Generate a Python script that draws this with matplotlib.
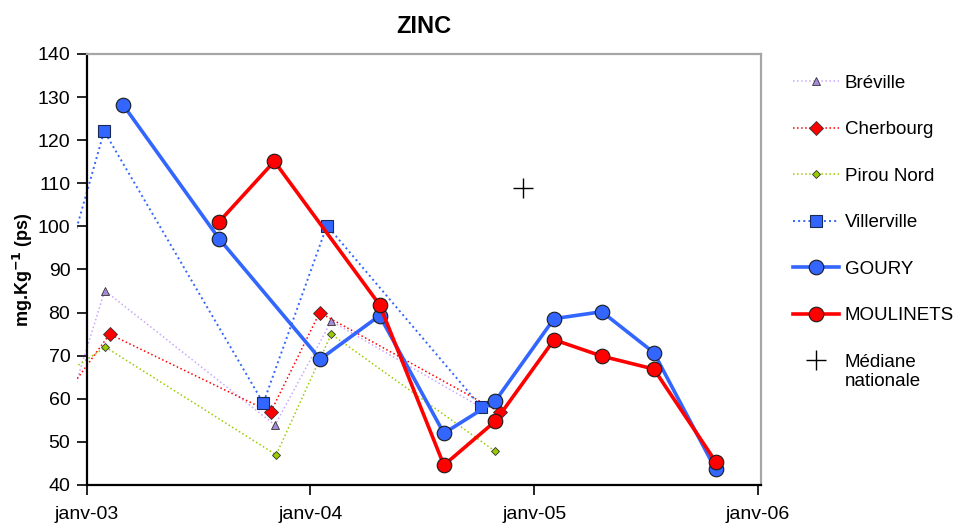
import matplotlib
matplotlib.use("Agg")
import matplotlib.pyplot as plt
from matplotlib.transforms import Bbox, TransformedBbox
import numpy as np

plt.rcParams['font.family'] = ['Liberation Sans', 'DejaVu Sans']

# --- data -------------------------------------------------------------
breville_dates = ['2002-11-15', '2003-01-30', '2003-11-04', '2004-02-04', '2004-10-06']
breville_vals = [50.4, 85.1, 53.9, 78.0, 58.0]

cherbourg_dates = ['2002-11-15', '2003-02-07', '2003-10-28', '2004-01-16', '2004-11-05']
cherbourg_vals = [58.6, 75.0, 56.9, 80.0, 56.9]

pirou_dates = ['2002-11-15', '2003-01-31', '2003-11-06', '2004-02-04', '2004-10-28']
pirou_vals = [64.7, 72.0, 47.0, 75.0, 47.9]

villerville_dates = ['2002-11-15', '2003-01-29', '2003-10-16', '2004-01-28', '2004-10-06']
villerville_vals = [84.6, 122.1, 59.0, 100.2, 58.1]

goury_dates = ['2003-03-01', '2003-08-05', '2004-01-17', '2004-04-23', '2004-08-06',
               '2004-10-29', '2005-02-02', '2005-04-21', '2005-07-15', '2005-10-24']
goury_vals = [128.2, 97.1, 69.2, 79.3, 52.0, 59.5, 78.6, 80.2, 70.7, 43.6]

moulinets_dates = ['2003-08-05', '2003-11-03', '2004-04-23', '2004-08-06',
                   '2004-10-29', '2005-02-02', '2005-04-21', '2005-07-15', '2005-10-24']
moulinets_vals = [101.1, 115.1, 81.8, 44.6, 54.8, 73.7, 69.9, 66.9, 45.4]

mediane_dates = ['2004-12-13']
mediane_vals = [108.9]

tick_dates = ['2003-01-01', '2004-01-01', '2005-01-01', '2006-01-01']
tick_labels = ['janv-03', 'janv-04', 'janv-05', 'janv-06']


def d(lst):
    return np.array(lst, dtype='datetime64[D]')


# --- figure -----------------------------------------------------------
fig = plt.figure(figsize=(9.58, 5.23), dpi=100)
ax = fig.add_axes([87 / 958, 1 - 485 / 523, (761 - 87) / 958, (485 - 54) / 523])

lines = []
lines += ax.plot(d(breville_dates), breville_vals, linestyle=':', linewidth=1.1,
                 color='#c9a6ff', marker='^', markersize=6,
                 markerfacecolor='#a68ad9', markeredgecolor='#333333',
                 markeredgewidth=0.6, label='Bréville')
lines += ax.plot(d(cherbourg_dates), cherbourg_vals, linestyle=':', linewidth=1.1,
                 color='#ff0000', marker='D', markersize=7,
                 markerfacecolor='#ff0000', markeredgecolor='#333333',
                 markeredgewidth=0.6, label='Cherbourg')
lines += ax.plot(d(pirou_dates), pirou_vals, linestyle=':', linewidth=1.1,
                 color='#99cc00', marker='D', markersize=4,
                 markerfacecolor='#99cc00', markeredgecolor='#333333',
                 markeredgewidth=0.6, label='Pirou Nord')
lines += ax.plot(d(villerville_dates), villerville_vals, linestyle=':', linewidth=1.4,
                 color='#3366ff', marker='s', markersize=8,
                 markerfacecolor='#3366ff', markeredgecolor='#1a2a55',
                 markeredgewidth=0.8, label='Villerville')
lines += ax.plot(d(goury_dates), goury_vals, linestyle='-', linewidth=2.6,
                 color='#3366ff', marker='o', markersize=10.5,
                 markerfacecolor='#3366ff', markeredgecolor='#1a1a1a',
                 markeredgewidth=0.8, label='GOURY')
lines += ax.plot(d(moulinets_dates), moulinets_vals, linestyle='-', linewidth=2.6,
                 color='#ff0000', marker='o', markersize=10.5,
                 markerfacecolor='#ff0000', markeredgecolor='#1a1a1a',
                 markeredgewidth=0.8, label='MOULINETS')
lines += ax.plot(d(mediane_dates), mediane_vals, linestyle='none', marker='+',
                 markersize=14, markeredgewidth=1.0, color='black',
                 label='Médiane\nnationale')

ax.set_xlim(np.datetime64('2003-01-01'), np.datetime64('2006-01-06'))
ax.set_ylim(40, 140)

# series are allowed to run a little past the left axis line
clip = TransformedBbox(Bbox([[-10 / 674, 0], [1, 1]]), ax.transAxes)
for ln in lines:
    ln.set_clip_box(clip)

ax.set_xticks(d(tick_dates))
ax.set_xticklabels(tick_labels)
ax.set_yticks(np.arange(40, 141, 10))

ax.tick_params(axis='both', direction='out', length=7, width=1.2,
               labelsize=14, colors='black')
ax.tick_params(axis='x', pad=8)
ax.tick_params(axis='y', pad=5)

for s in ('left', 'bottom'):
    ax.spines[s].set_color('black')
    ax.spines[s].set_linewidth(1.6)
for s in ('top', 'right'):
    ax.spines[s].set_color('#a6a6a6')
    ax.spines[s].set_linewidth(1.6)

ax.set_title('ZINC', fontsize=17, fontweight='bold', pad=15)
ax.set_ylabel('mg.Kg$^{\\mathbf{-1}}$ (ps)', fontsize=13, fontweight='bold', labelpad=2)

leg = ax.legend(loc='upper left', bbox_to_anchor=(785 / 958, 1 - 67 / 523),
                bbox_transform=fig.transFigure, frameon=False, fontsize=13.5,
                handlelength=2.5, handletextpad=0.3, labelspacing=1.57,
                borderaxespad=0)

# put the median's "+" level with the first line of its two-line label
med_handle = leg.legend_handles[-1]
med_handle.set_ydata(np.asarray(med_handle.get_ydata(), dtype=float) + 8.5)

fig.savefig('out.png', dpi=100)
